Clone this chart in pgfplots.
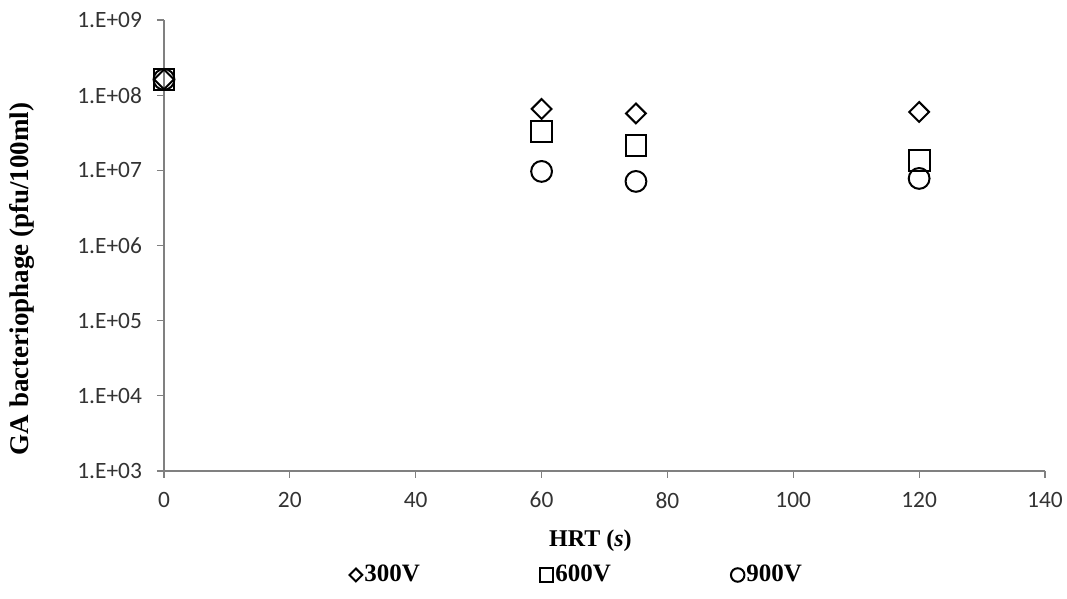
\documentclass[border=0pt]{standalone}
\usepackage{fontspec}
\setmainfont{Liberation Serif}
\newfontfamily\carlito{Carlito}
\usepackage{pgfplots}
\pgfplotsset{compat=1.18}
\begin{document}
\begin{tikzpicture}
\useasboundingbox (-82pt,-64pt) rectangle (451.5pt,235.5pt);
\begin{axis}[
  scale only axis, width=440.5pt, height=225.5pt,
  at={(0,0)}, anchor=south west,
  ymode=log, xmin=0, xmax=140, ymin=1e3, ymax=1e9,
  xtick={0,20,40,60,80,100,120,140},
  xticklabels={0,20,40,60,80,100,120,140},
  ytick={1e3,1e4,1e5,1e6,1e7,1e8,1e9},
  yticklabels={{1.E+03},{1.E+04},{1.E+05},{1.E+06},{1.E+07},{1.E+08},{1.E+09}},
  yminorticks=false, xminorticks=false,
  axis lines*=left,
  axis line style={draw=black!50, line width=0.6pt},
  tick align=outside, major tick length=3.5pt,
  tick style={draw=black!50, line width=0.6pt},
  ticklabel style={font=\carlito\fontsize{11.7}{13}\selectfont, text=black!80},
  xticklabel style={yshift=-3.5pt},
  yticklabel style={xshift=-4pt},
  clip=false,
  xlabel={HRT (\textit{s})},
  xlabel style={at={(axis description cs:0.484,-0.155)}, anchor=center, font=\bfseries\fontsize{12}{14}\selectfont},
  ylabel={GA bacteriophage (pfu/100ml)},
  ylabel style={at={(axis description cs:-0.1615,0.426)}, anchor=center, font=\bfseries\fontsize{13.5}{15}\selectfont},
  legend columns=3,
  legend style={at={(axis description cs:0.4685,-0.2306)}, anchor=center, draw=none, fill=none,
    font=\bfseries\fontsize{12.5}{14}\selectfont,
    nodes={inner xsep=1pt},
    /tikz/every even column/.append style={column sep=59pt},
    /tikz/every odd column/.append style={column sep=0pt}},
  legend image code/.code={\draw[#1, every mark/.append style={scale=0.65}] plot coordinates {(0.1cm,0cm)};},
]
\addplot[only marks, mark=square, mark size=3.5pt, mark options={rotate=45, line width=1pt, draw=black}] coordinates {(0,1.62e8) (60,6.55e7) (75,5.71e7) (120,5.98e7)};
\addlegendentry{300V}
\addplot[only marks, mark=square, mark size=5.2pt, mark options={line width=1pt, draw=black}] coordinates {(0,1.62e8) (60,3.29e7) (75,2.14e7) (120,1.34e7)};
\addlegendentry{600V}
\addplot[only marks, mark=o, mark size=5.2pt, mark options={line width=1pt, draw=black}] coordinates {(0,1.62e8) (60,9.67e6) (75,7.12e6) (120,7.8e6)};
\addlegendentry{900V}
\end{axis}
\end{tikzpicture}
\end{document}
